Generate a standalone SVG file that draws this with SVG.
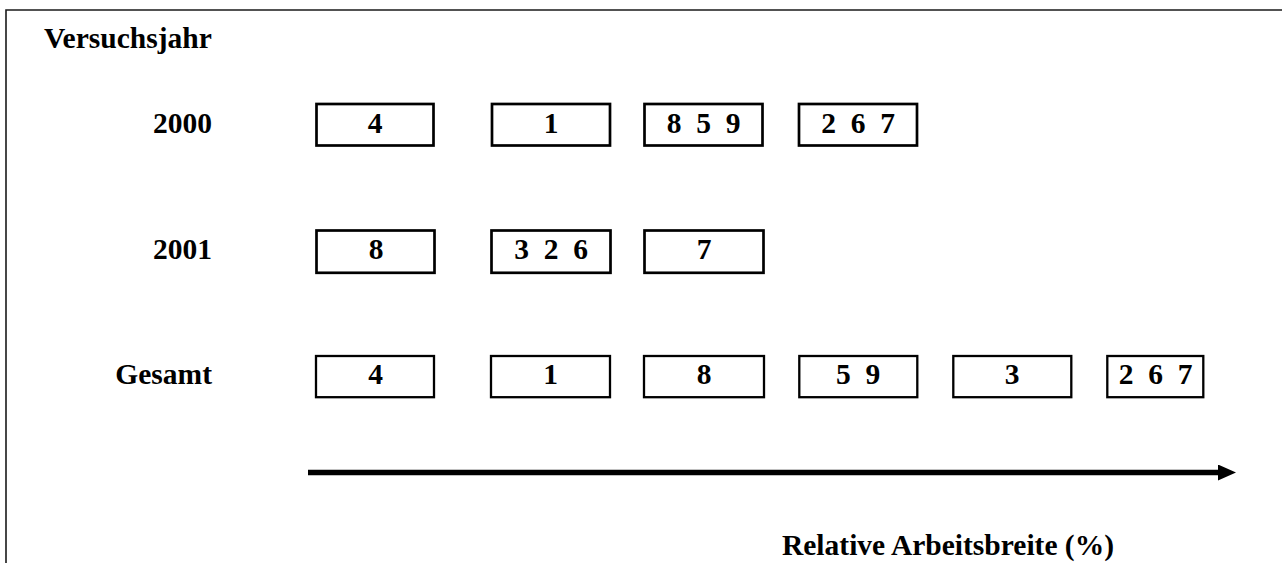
<svg xmlns="http://www.w3.org/2000/svg" width="1282" height="563" viewBox="0 0 1282 563">
<style>
text{font-family:"Liberation Serif","Times New Roman",serif;font-weight:bold;font-size:29.5px;fill:#000;white-space:pre}
.lbl{text-anchor:end}
.bx text{text-anchor:middle}
.bx rect{fill:#fff;stroke:#000;stroke-width:2.7}
.r3 rect{stroke-width:2.3}
.frame{stroke:#1a1a1a;stroke-width:1.6;fill:none}
</style>
<defs>
<marker id="ah" markerUnits="userSpaceOnUse" markerWidth="20" markerHeight="18" refX="2" refY="8" orient="auto">
<path d="M0,0 L18,8 L0,16 Z" fill="#000"/>
</marker>
</defs>
<rect width="1282" height="563" fill="#fff"/>
<path class="frame" d="M6,563 V10 H1282"/>
<g id="labels">
<text x="44" y="48">Versuchsjahr</text>
<text class="lbl" x="212" y="133">2000</text>
<text class="lbl" x="212" y="259">2001</text>
<text class="lbl" x="212" y="384">Gesamt</text>
<text x="948" y="555" text-anchor="middle">Relative Arbeitsbreite (%)</text>
</g>
<g id="row2000" class="bx">
<g id="n2000_1"><rect x="316.5" y="104" width="117" height="41.5"/><text x="375" y="133">4</text></g>
<g id="n2000_2"><rect x="492" y="104" width="118" height="41.5"/><text x="551" y="133">1</text></g>
<g id="n2000_3"><rect x="644.5" y="104" width="118" height="41.5"/><text x="703.5" y="133">8  5  9</text></g>
<g id="n2000_4"><rect x="799" y="104" width="118" height="41.5"/><text x="858" y="133">2  6  7</text></g>
</g>
<g id="row2001" class="bx">
<g id="n2001_1"><rect x="316.5" y="230.5" width="118" height="42.3"/><text x="376" y="259">8</text></g>
<g id="n2001_2"><rect x="491.5" y="230.5" width="119" height="42.3"/><text x="551" y="259">3  2  6</text></g>
<g id="n2001_3"><rect x="644.5" y="230.5" width="119" height="42.3"/><text x="704" y="259">7</text></g>
</g>
<g id="rowGesamt" class="bx r3">
<g id="nG_1"><rect x="316" y="356" width="118" height="41.2"/><text x="375.5" y="384">4</text></g>
<g id="nG_2"><rect x="491" y="356" width="119" height="41.2"/><text x="550.5" y="384">1</text></g>
<g id="nG_3"><rect x="644" y="356" width="120" height="41.2"/><text x="704" y="384">8</text></g>
<g id="nG_4"><rect x="799.3" y="356" width="118" height="41.2"/><text x="858" y="384">5  9</text></g>
<g id="nG_5"><rect x="953.3" y="356" width="118" height="41.2"/><text x="1012" y="384">3</text></g>
<g id="nG_6"><rect x="1107.3" y="356" width="96" height="41.2"/><text x="1155.5" y="384">2  6  7</text></g>
</g>
<g id="connectors">
<line x1="308" y1="472.5" x2="1220" y2="472.5" stroke="#000" stroke-width="5.5" marker-end="url(#ah)"/>
</g>
</svg>
